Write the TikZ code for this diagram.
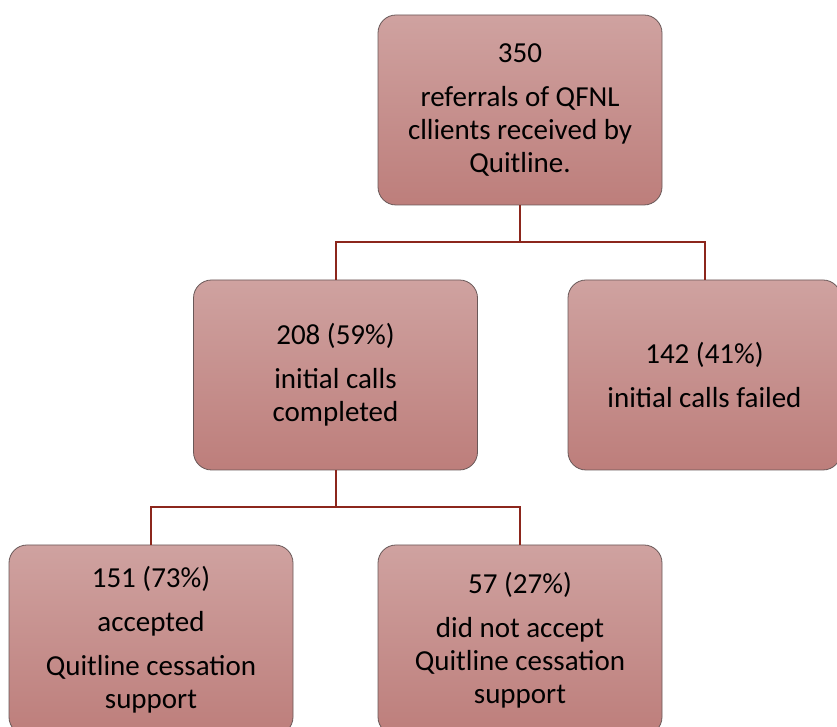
\documentclass[tikz,border=0pt]{standalone}
\usepackage{fontspec}
\setmainfont{Carlito}
\usepackage{tikz}
\usetikzlibrary{positioning}
\usepackage{xcolor}
\definecolor{boxtop}{RGB}{207,162,160}
\definecolor{boxbot}{RGB}{189,126,123}
\definecolor{boxline}{RGB}{105,88,88}
\definecolor{linkred}{RGB}{140,38,28}

\begin{document}
\begin{tikzpicture}[x=1pt, y=1pt, grow=down, level distance=265pt, sibling distance=369pt,
  box/.style={draw=boxline, line width=0.8pt, rectangle, rounded corners=18pt, align=center,
    top color=boxtop, bottom color=boxbot, minimum width=284pt, minimum height=190pt,
    inner sep=0pt, font=\fontsize{29}{33}\selectfont},
  edge from parent/.style={draw=linkred, line width=2pt},
  edge from parent path={(\tikzparentnode.south) -- ++(0,-37) -| (\tikzchildnode.north)}]
  \useasboundingbox (0,0) rectangle (837,727);
  \node[box] (referrals) at (520,617) {350\\[11pt]referrals of QFNL\\cllients received by\\Quitline.}
    child { node[box] (completed) {208 (59\%)\\[11pt]initial calls\\completed}
      child { node[box] (accepted) {151 (73\%)\\[11pt]accepted\\[11pt]Quitline cessation\\support} }
      child { node[box] (declined) {57 (27\%)\\[11pt]did not accept\\Quitline cessation\\support} } }
    child { node[box, minimum width=273pt] (failed) {142 (41\%)\\[11pt]initial calls failed} };
\end{tikzpicture}
\end{document}
